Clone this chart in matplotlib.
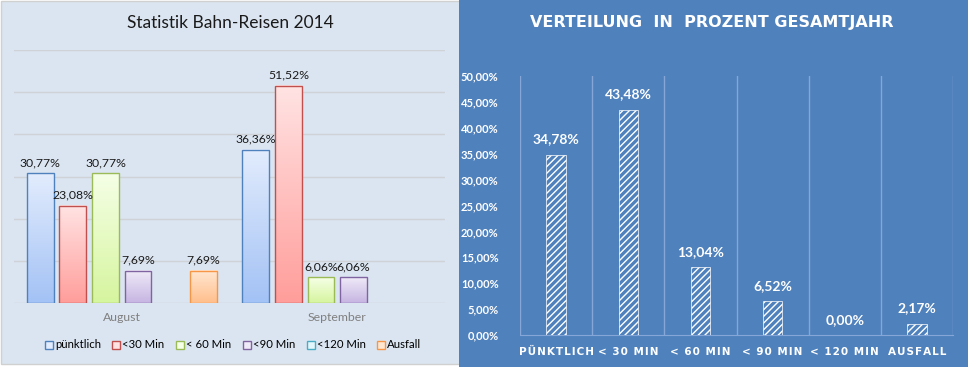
import numpy as np
import matplotlib
matplotlib.use('Agg')
import matplotlib.pyplot as plt
from matplotlib.patches import Rectangle
from matplotlib.ticker import FixedLocator

# Daten linkes Diagramm (Monate)
monate = ['August', 'September']
kategorien = ['pünktlich', '<30 Min', '< 60 Min', '<90 Min', '<120 Min', 'Ausfall']
august = [30.77, 23.08, 30.77, 7.69, np.nan, 7.69]
september = [36.36, 51.52, 6.06, 6.06, np.nan, np.nan]

# Daten rechtes Diagramm (Gesamtjahr)
kat_jahr = ['PÜNKTLICH', '< 30 MIN', '< 60 MIN', '< 90 MIN', '< 120 MIN', 'AUSFALL']
werte_jahr = [34.78, 43.48, 13.04, 6.52, 0.00, 2.17]

# Farben: Rand, oben (hell), unten (dunkel)
rand = ['#4f81bd', '#c0504d', '#9bbb59', '#8064a2', '#4bacc6', '#f79646']
oben = ['#e2ecfd', '#ffe3e3', '#f5ffe6', '#efeaf8', '#e2f6fb', '#ffe7d2']
unten = ['#a3c2f5', '#ff9e9b', '#d6f59f', '#c6b5e2', '#9fdff0', '#ffbf8c']

def fmt(v):
    return ('%.2f%%' % v).replace('.', ',')

def gesperrt(s):
    # Sperrschrift mit Haarspatien
    return '\u200a'.join(s)

W, H = 968, 367
fig = plt.figure(figsize=(W / 100, H / 100), dpi=100)

def px(x0, y0, x1, y1):
    # Pixelkoordinaten (oben links) -> Figurkoordinaten
    return [x0 / W, 1 - y1 / H, (x1 - x0) / W, (y1 - y0) / H]

# Hintergruende
fig.patches.append(Rectangle((0.5 / W, 1 - 364 / H), 460 / W, 363.5 / H, transform=fig.transFigure,
                             facecolor='#dbe5f1', edgecolor='#d0d0d0', lw=1, zorder=-2))
fig.patches.append(Rectangle((459 / W, 0), (W - 459) / W, 1, transform=fig.transFigure,
                             facecolor='#4f81bd', edgecolor='none', zorder=-2))

# ---- linkes Diagramm ----
ax = fig.add_axes(px(14, 50, 445, 303))
ax.set_facecolor('none')
x = np.arange(len(monate))
breite = 0.151
daten = np.array([august, september])
for i, k in enumerate(kategorien):
    pos = x + (i - 2.5) * breite
    bars = ax.bar(pos, daten[:, i], width=0.125, facecolor='none', edgecolor=rand[i],
                  lw=1, zorder=3, label=k)
    for b, v in zip(bars, daten[:, i]):
        if np.isnan(v):
            continue
        c0 = np.array(matplotlib.colors.to_rgb(oben[i]))
        c1 = np.array(matplotlib.colors.to_rgb(unten[i]))
        t = np.linspace(0, 1, 64)[:, None]
        img = (c0 * (1 - t) + c1 * t)[:, None, :]
        ax.imshow(img, extent=[b.get_x(), b.get_x() + b.get_width(), 0, b.get_height()],
                  aspect='auto', zorder=2, interpolation='bilinear')
        ax.text(b.get_x() + b.get_width() / 2, v + 1.2, fmt(v), ha='center', va='bottom',
                fontsize=8.8, family='Lato', color='#1a1a1a', zorder=4)
ax.set_xlim(-0.5, 1.5)
ax.set_ylim(0, 60)
ax.set_yticks(np.arange(0, 61, 10))
ax.yaxis.grid(True, color='#cfd3d7', lw=1)
ax.set_axisbelow(True)
ax.tick_params(left=False, labelleft=False, bottom=False)
ax.set_xticks(x)
ax.set_xticklabels(monate, fontsize=8.8, family='Lato', color='#7f7f7f')
ax.tick_params(axis='x', pad=3)
for s in ax.spines.values():
    s.set_visible(False)
fig.text(230 / W, 1 - 23 / H, 'Statistik Bahn-Reisen 2014', ha='center', va='center',
         fontsize=12.5, family='Lato', color='#1a1a1a')

handles = [Rectangle((0, 0), 1, 1, facecolor=oben[i], edgecolor=rand[i], lw=1)
           for i in range(len(kategorien))]
fig.legend(handles, kategorien, loc='center', bbox_to_anchor=(233 / W, 1 - 345 / H), ncol=6,
           frameon=False, handlelength=0.7, handleheight=0.7, handletextpad=0.2,
           columnspacing=1.0, prop={'family': 'Lato', 'size': 8.2})

# ---- rechtes Diagramm ----
plt.rcParams['hatch.linewidth'] = 1.0
ax2 = fig.add_axes(px(520, 76, 953, 335))
ax2.set_facecolor('none')
x2 = np.arange(len(kat_jahr))
bars2 = ax2.bar(x2, werte_jahr, width=0.27, facecolor='#4f81bd', edgecolor='white',
                hatch='/////', lw=0.5, zorder=3)
for b, v in zip(bars2, werte_jahr):
    ax2.text(b.get_x() + b.get_width() / 2, v + 1.8, fmt(v), ha='center', va='bottom',
             fontsize=10, fontweight='bold', family='Lato', color='white', zorder=4)
ax2.set_xlim(-0.5, len(kat_jahr) - 0.5)
ax2.set_ylim(0, 50)
ax2.set_yticks(np.arange(0, 51, 5))
ax2.set_yticklabels([fmt(v) for v in np.arange(0, 51, 5)], fontsize=8,
                    fontweight='bold', family='Lato', color='white')
ax2.xaxis.set_minor_locator(FixedLocator(np.arange(-0.5, len(kat_jahr), 1)))
ax2.xaxis.grid(True, which='minor', color='#85a6d6', lw=1)
ax2.set_xticks(x2)
ax2.set_xticklabels([gesperrt(k) for k in kat_jahr], fontsize=7.5, fontweight='bold',
                    family='DejaVu Sans', color='white')
ax2.tick_params(which='both', left=False, bottom=False)
ax2.tick_params(axis='y', pad=12)
ax2.tick_params(axis='x', pad=5)
for s in ['top', 'right', 'left']:
    ax2.spines[s].set_visible(False)
ax2.spines['bottom'].set_color('#85a6d6')
fig.text(712 / W, 1 - 22 / H, 'VERTEILUNG  IN  PROZENT GESAMTJAHR', ha='center', va='center',
         fontsize=11.5, fontweight='bold', family='DejaVu Sans', color='white')

fig.savefig('out.png', dpi=100)
